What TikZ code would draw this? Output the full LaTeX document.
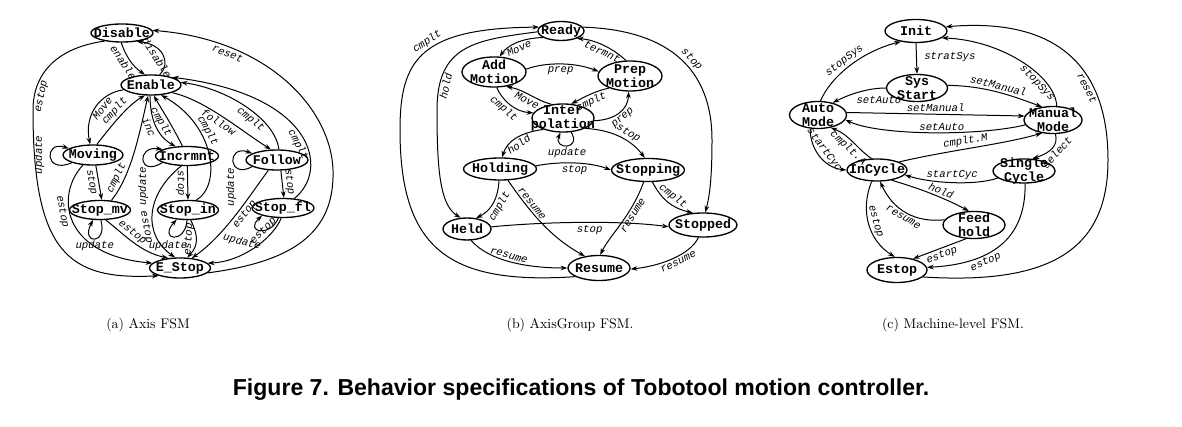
\documentclass[tikz,border=0pt]{standalone}
\usepackage{fontspec}
\setmonofont{Liberation Mono}
\newfontfamily\titlefont{Liberation Sans}
\usetikzlibrary{shapes.geometric,arrows.meta}
\tikzset{
  st/.style 2 args={ellipse, draw, line width=1pt, inner xsep=-40pt, inner ysep=-20pt,
    minimum width=#1*0.75pt, minimum height=#2*0.75pt,
    font=\fontsize{10}{10.5}\selectfont\ttfamily\bfseries, align=center},
  tr/.style={line width=0.75pt, -{Stealth[length=5pt,width=3.5pt]}},
  lbl/.style={font=\fontsize{8}{8}\selectfont\ttfamily\itshape, inner sep=1.5pt},
  captxt/.style={font=\fontsize{10.4}{12}\selectfont},
  ttl/.style={font=\titlefont\bfseries\fontsize{17.3}{20}\selectfont}
}
\begin{document}
\begin{tikzpicture}[x=0.75pt,y=-0.75pt]
\path[fill=white] (0,0) rectangle (1182,427);
\useasboundingbox (0,0) rectangle (1182,427);

% ---------------- (a) Axis FSM ----------------
\node[st={62}{18}] (Disable) at (122,33) {Disable};
\node[st={60}{20}] (Enable) at (151,85) {Enable};
\node[st={60}{20}] (Moving) at (93,155) {Moving};
\node[st={63}{19}] (Incrmnt) at (187,156) {Incrmnt};
\node[st={62}{20}] (Follow) at (277,160) {Follow};
\node[st={61}{19}] (Stopmv) at (100,210) {Stop\_mv};
\node[st={61}{19}] (Stopin) at (188,210) {Stop\_in};
\node[st={62}{19}] (Stopfl) at (283,208) {Stop\_fl};
\node[st={61}{20}] (EStop) at (180,268) {E\_Stop};

\draw[tr] (Disable.-95) .. controls (126,56) and (132,66) .. (Enable.120) node[lbl,sloped,auto,swap,pos=0.45] {enable};
\draw[tr] (Enable.50) .. controls (172,62) and (162,44) .. (Disable.-30) node[lbl,sloped,auto,swap,pos=0.5] {disable};
\draw[tr] (EStop.-10) .. controls (290,262) and (335,235) .. (333,170) .. controls (331,110) and (270,40) .. (Disable.5) node[lbl,sloped,auto,swap,pos=0.75] {reset};
\draw[tr] (Disable.205) .. controls (55,48) and (33,75) .. (33,110) node[lbl,sloped,auto,swap,pos=0.85] {estop} .. controls (33,255) and (70,280) .. (EStop.200);
\draw[tr] (Enable.190) .. controls (100,93) and (84,115) .. (Moving.105) node[lbl,sloped,auto,swap,pos=0.45] {Move};
\draw[tr] (Moving.70) .. controls (112,125) and (128,105) .. (Enable.-120) node[lbl,sloped,auto,pos=0.5] {cmplt};
\draw[tr] (Moving.200) .. controls (44,175) and (44,140) .. (Moving.165);
\node[lbl,rotate=90] (uMov) at (39,155) {update};
\draw[tr] (Moving.-75) -- (Stopmv.80) node[lbl,sloped,auto,swap,pos=0.45] {stop};
\draw[tr] (Stopmv.40) .. controls (132,175) and (140,130) .. (Enable.-105) node[lbl,sloped,auto,pos=0.22] {cmplt};
\draw[tr] (Stopmv.-85) .. controls (108,245) and (80,245) .. (Stopmv.-125) node[lbl,pos=0.5,below=0pt] {update};
\draw[tr] (Stopmv.-60) .. controls (125,235) and (140,252) .. (EStop.140) node[lbl,sloped,auto,pos=0.4] {estop};
\draw[tr] (Moving.-135) .. controls (55,195) and (62,255) .. (EStop.170) node[lbl,sloped,auto,swap,pos=0.4] {estop};
\draw[tr] (Enable.-95) .. controls (150,115) and (155,135) .. (Incrmnt.140) node[lbl,sloped,auto,swap,pos=0.5] {inc};
\draw[tr] (Incrmnt.115) .. controls (172,125) and (162,110) .. (Enable.-75) node[lbl,sloped,auto,swap,pos=0.5] {cmplt};
\draw[tr] (Stopin.50) .. controls (222,185) and (215,125) .. (Enable.-45) node[lbl,sloped,auto,pos=0.65] {cmplt};
\draw[tr] (Incrmnt.195) .. controls (138,178) and (136,145) .. (Incrmnt.165);
\node[lbl,rotate=90] (uInc) at (143,186) {update};
\draw[tr] (Incrmnt.-120) .. controls (145,195) and (143,235) .. (EStop.115) node[lbl,sloped,auto,swap,pos=0.62] {estop};
\draw[tr] (Incrmnt.-88) -- (Stopin.90) node[lbl,sloped,auto,swap,pos=0.5] {stop};
\draw[tr] (Stopin.-95) .. controls (185,245) and (158,240) .. (Stopin.-140);
\node[lbl] (uSin) at (168,246) {update};
\draw[tr] (Stopin.-75) .. controls (198,235) and (199,245) .. (EStop.55) node[lbl,sloped,auto,pos=0.5] {estop};
\draw[tr] (Enable.-20) .. controls (205,100) and (240,130) .. (Follow.120) node[lbl,sloped,auto,swap,pos=0.5] {follow};
\draw[tr] (Follow.80) .. controls (275,118) and (225,88) .. (Enable.5) node[lbl,sloped,auto,swap,pos=0.4] {cmplt};
\draw[tr] (Stopfl.40) .. controls (330,170) and (315,95) .. (Enable.20) node[lbl,sloped,auto,swap,pos=0.45] {cmplt};
\draw[tr] (Follow.195) .. controls (228,180) and (226,144) .. (Follow.165);
\node[lbl,rotate=90] (uFol) at (231,187) {update};
\draw[tr] (Follow.-70) -- (Stopfl.85) node[lbl,sloped,auto,pos=0.45] {stop};
\draw[tr] (Stopfl.-115) .. controls (270,238) and (244,232) .. (Stopfl.-160);
\node[lbl,rotate=-15] (uSfl) at (242,242) {update};
\draw[tr] (Stopfl.-100) .. controls (272,240) and (240,262) .. (EStop.10) node[lbl,sloped,auto,pos=0.28] {estop};
\draw[tr] (Follow.-130) .. controls (250,195) and (225,235) .. (EStop.40) node[lbl,sloped,auto,swap,pos=0.45] {estop};

% ---------------- (b) AxisGroup FSM ----------------
\node[st={46}{19}] (Ready) at (561,31) {Ready};
\node[st={64}{30}] (AddMotion) at (494,72) {Add\\Motion};
\node[st={64}{30}] (PrepMotion) at (630,76) {Prep\\Motion};
\node[st={62}{28}] (Interpolation) at (563,118) {Inter\\polation};
\node[st={73}{22}] (Holding) at (500,169) {Holding};
\node[st={73}{23}] (Stopping) at (648,170) {Stopping};
\node[st={48}{22}] (Held) at (467,229) {Held};
\node[st={68}{24}] (Stopped) at (703,225) {Stopped};
\node[st={62}{25}] (Resume) at (599,268) {Resume};

\draw[tr] (Ready.200) .. controls (522,38) and (508,45) .. (AddMotion.70) node[lbl,sloped,auto,swap,pos=0.5] {Move};
\draw[tr] (PrepMotion.105) .. controls (615,50) and (597,40) .. (Ready.-25) node[lbl,sloped,auto,swap,pos=0.5] {termnt};
\draw[tr] (AddMotion.5) .. controls (545,62) and (575,62) .. (PrepMotion.172) node[lbl,auto,swap,pos=0.5] {prep};
\draw[tr] (Interpolation.130) .. controls (535,100) and (525,90) .. (AddMotion.-50) node[lbl,sloped,auto,swap,pos=0.5] {Move};
\draw[tr] (AddMotion.-80) .. controls (502,100) and (515,112) .. (Interpolation.170) node[lbl,sloped,auto,swap,pos=0.45] {cmplt};
\draw[tr] (PrepMotion.-150) .. controls (592,92) and (583,98) .. (Interpolation.60) node[lbl,sloped,auto,swap,pos=0.5] {cmplt};
\draw[tr] (Interpolation.-5) .. controls (615,120) and (628,110) .. (PrepMotion.-95) node[lbl,sloped,auto,swap,pos=0.5] {prep};
\draw[tr] (Interpolation.-60) .. controls (582,150) and (553,150) .. (Interpolation.-100) node[lbl,pos=0.5,below=0pt] {update};
\draw[tr] (Interpolation.-150) .. controls (518,133) and (507,142) .. (Holding.80) node[lbl,sloped,auto,swap,pos=0.5] {hold};
\draw[tr] (Interpolation.-25) .. controls (615,130) and (633,142) .. (Stopping.105) node[lbl,sloped,auto,pos=0.55] {stop};
\draw[tr] (Holding.5) .. controls (560,161) and (590,162) .. (Stopping.180) node[lbl,auto,swap,pos=0.5] {stop};
\draw[tr] (Holding.-95) .. controls (498,198) and (492,210) .. (Held.50) node[lbl,sloped,auto,swap,pos=0.5] {cmplt};
\draw[tr] (Holding.-55) .. controls (532,215) and (552,238) .. (Resume.140) node[lbl,sloped,auto,pos=0.28] {resume};
\draw[tr] (Stopping.-110) .. controls (632,215) and (610,235) .. (Resume.85) node[lbl,sloped,auto,swap,pos=0.35] {resume};
\draw[tr] (Stopping.-70) .. controls (662,200) and (672,208) .. (Stopped.130) node[lbl,sloped,auto,pos=0.5] {cmplt};
\draw[tr] (Held.5) .. controls (540,222) and (620,220) .. (Stopped.183) node[lbl,auto,swap,pos=0.55] {stop};
\draw[tr] (Held.-70) .. controls (490,262) and (530,268) .. (Resume.180) node[lbl,sloped,auto,pos=0.45] {resume};
\draw[tr] (Stopped.-110) .. controls (690,255) and (660,266) .. (Resume.-2) node[lbl,sloped,auto,swap,pos=0.45] {resume};
\draw[tr] (Ready.10) .. controls (670,30) and (712,70) .. (712,140) node[lbl,sloped,auto,pos=0.55] {stop} .. controls (712,175) and (710,195) .. (Stopped.80);
\draw[tr] (Resume.200) .. controls (450,285) and (400,250) .. (400,130) .. controls (400,60) and (420,28) .. (Ready.170) node[lbl,sloped,auto,pos=0.55] {cmplt};
\draw[tr] (Ready.182) .. controls (475,40) and (437,45) .. (437,110) node[lbl,sloped,auto,swap,pos=0.85] {hold} .. controls (437,170) and (440,205) .. (Held.120);

% ---------------- (c) Machine-level FSM ----------------
\node[st={62}{23}] (Init) at (916,31) {Init};
\node[st={61}{27}] (SysStart) at (917,88) {Sys\\Start};
\node[st={57}{27}] (AutoMode) at (818,115) {Auto\\Mode};
\node[st={58}{27}] (ManualMode) at (1053,120) {Manual\\Mode};
\node[st={60}{22}] (InCycle) at (877,170) {InCycle};
\node[st={62}{24}] (SingleCycle) at (1024,171) {Single\\Cycle};
\node[st={62}{27}] (FeedHold) at (974,225) {Feed\\hold};
\node[st={60}{25}] (Estop) at (897,270) {Estop};

\draw[tr] (Init.south) -- (SysStart.north) node[lbl,pos=0.45,right=4pt] {stratSys};
\draw[tr] (AutoMode.80) .. controls (830,78) and (860,52) .. (Init.-145) node[lbl,sloped,auto,pos=0.5] {stopSys};
\draw[tr] (ManualMode.75) .. controls (1055,75) and (1000,40) .. (Init.-15) node[lbl,sloped,auto,swap,pos=0.3] {stopSys};
\draw[tr] (Estop.-15) .. controls (1050,285) and (1108,250) .. (1108,160) .. controls (1108,60) and (1050,18) .. (Init.8) node[lbl,sloped,auto,swap,pos=0.3] {reset};
\draw[tr] (SysStart.180) .. controls (870,88) and (852,93) .. (AutoMode.40) node[lbl,auto,pos=0.62] {setAuto};
\draw[tr] (SysStart.5) .. controls (985,86) and (1010,95) .. (ManualMode.130) node[lbl,sloped,auto,pos=0.5] {setManual};
\draw[tr] (AutoMode.5) -- (ManualMode.172) node[lbl,auto,pos=0.5] {setManual};
\draw[tr] (ManualMode.190) .. controls (980,136) and (880,136) .. (AutoMode.-10) node[lbl,auto,swap,pos=0.45] {setAuto};
\draw[tr] (AutoMode.-120) .. controls (810,150) and (825,168) .. (InCycle.180) node[lbl,sloped,auto,pos=0.45] {startCyc};
\draw[tr] (InCycle.115) .. controls (858,150) and (850,135) .. (AutoMode.-45) node[lbl,sloped,auto,swap,pos=0.5] {cmplt.A};
\draw[tr] (InCycle.20) .. controls (950,150) and (1000,145) .. (ManualMode.-130) node[lbl,sloped,auto,pos=0.45] {cmplt.M};
\draw[tr] (ManualMode.-80) .. controls (1058,145) and (1052,152) .. (SingleCycle.55) node[lbl,sloped,auto,swap,pos=0.5] {select};
\draw[tr] (SingleCycle.195) .. controls (975,186) and (930,183) .. (InCycle.-10) node[lbl,auto,swap,pos=0.5] {startCyc};
\draw[tr] (InCycle.-35) .. controls (925,190) and (948,200) .. (FeedHold.110) node[lbl,sloped,auto,pos=0.55] {hold};
\draw[tr] (FeedHold.170) .. controls (915,223) and (893,210) .. (InCycle.-75) node[lbl,sloped,auto,swap,pos=0.5] {resume};
\draw[tr] (InCycle.-115) .. controls (860,210) and (868,240) .. (Estop.100) node[lbl,sloped,auto,pos=0.5] {estop};
\draw[tr] (FeedHold.-120) -- (Estop.35) node[lbl,sloped,auto,swap,pos=0.5] {estop};
\draw[tr] (SingleCycle.-85) .. controls (1026,240) and (990,264) .. (Estop.5) node[lbl,sloped,auto,swap,pos=0.65] {estop};

% ---------------- captions ----------------
\node[captxt] (capa) at (148,325) {(a) Axis FSM};
\node[captxt] (capb) at (570,325) {(b) AxisGroup FSM.};
\node[captxt] (capc) at (953,325) {(c) Machine-level FSM.};
\node[ttl] (title) at (581,390) {Figure 7. Behavior specifications of Tobotool motion controller.};
\end{tikzpicture}
\end{document}
